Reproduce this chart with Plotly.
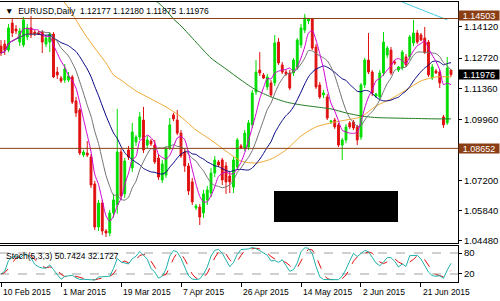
import plotly.graph_objects as go
import pandas as pd

# ---------------- data ----------------
date_labels = ["10 Feb 2015", "1 Mar 2015", "19 Mar 2015", "7 Apr 2015",
               "26 Apr 2015", "14 May 2015", "2 Jun 2015", "21 Jun 2015"]
date_tick_idx = [0, 16, 32, 48, 64, 80, 96, 112]

opens = [1.1326, 1.1335, 1.1308, 1.1430, 1.1403, 1.1344, 1.1331, 1.1367, 1.1408, 1.1389,
         1.1385, 1.1389, 1.1335, 1.1344, 1.1380, 1.1209, 1.1182, 1.1173, 1.1173, 1.1187,
         1.1079, 1.1038, 1.0835, 1.0844, 1.0826, 1.0705, 1.0511, 1.0619, 1.0493, 1.0484,
         1.0574, 1.0610, 1.0849, 1.0660, 1.0858, 1.0777, 1.0894, 1.0916, 1.0993, 1.0880,
         1.0898, 1.0880, 1.0822, 1.0723, 1.0745, 1.0867, 1.1016, 1.0993, 1.0934, 1.0849,
         1.0786, 1.0714, 1.0597, 1.0601, 1.0574, 1.0633, 1.0664, 1.0754, 1.0804, 1.0813,
         1.0786, 1.0741, 1.0691, 1.0781, 1.0876, 1.0867, 1.0871, 1.0971, 1.1119, 1.1218,
         1.1196, 1.1142, 1.1160, 1.1160, 1.1344, 1.1241, 1.1209, 1.1205, 1.1205, 1.1232,
         1.1331, 1.1398, 1.1439, 1.1448, 1.1322, 1.1151, 1.1106, 1.1097, 1.0984, 1.0993,
         1.0971, 1.0880, 1.0903, 1.0980, 1.0984, 1.0962, 1.0916, 1.1151, 1.1263, 1.1209,
         1.1101, 1.1097, 1.1205, 1.1286, 1.1308, 1.1254, 1.1218, 1.1227, 1.1277, 1.1277,
         1.1340, 1.1385, 1.1376, 1.1362, 1.1344, 1.1182, 1.1214, 1.1209, 1.1007, 1.0980,
         1.12177]
highs = [1.1353, 1.1353, 1.1425, 1.1448, 1.1421, 1.1408, 1.1457, 1.1425, 1.1462, 1.1398,
         1.1394, 1.1398, 1.1376, 1.1389, 1.1389, 1.1232, 1.1191, 1.1245, 1.1209, 1.1196,
         1.1097, 1.1047, 1.0858, 1.0898, 1.0840, 1.0718, 1.0633, 1.0633, 1.0502, 1.0588,
         1.0660, 1.1043, 1.0867, 1.0822, 1.0876, 1.0980, 1.0925, 1.1029, 1.1052, 1.0921,
         1.0907, 1.0903, 1.0840, 1.0813, 1.0876, 1.1002, 1.1025, 1.1038, 1.0948, 1.0867,
         1.0799, 1.0732, 1.0615, 1.0615, 1.0678, 1.0696, 1.0777, 1.0831, 1.0813, 1.0822,
         1.0804, 1.0759, 1.0826, 1.0912, 1.0885, 1.0948, 1.0993, 1.1128, 1.1263, 1.1299,
         1.1205, 1.1200, 1.1173, 1.1376, 1.1362, 1.1254, 1.1218, 1.1218, 1.1272, 1.1362,
         1.1425, 1.1471, 1.1453, 1.1453, 1.1335, 1.1164, 1.1128, 1.1110, 1.0993, 1.1002,
         1.0980, 1.0912, 1.0975, 1.0988, 1.0993, 1.0971, 1.1160, 1.1272, 1.1385, 1.1218,
         1.1115, 1.1218, 1.1389, 1.1326, 1.1322, 1.1263, 1.1236, 1.1308, 1.1290, 1.1376,
         1.1444, 1.1398, 1.1385, 1.1412, 1.1353, 1.1245, 1.1223, 1.1218, 1.1016, 1.1277,
         1.12180]
lows = [1.1281, 1.1286, 1.1299, 1.1367, 1.1380, 1.1326, 1.1322, 1.1353, 1.1362, 1.1371,
        1.1376, 1.1295, 1.1322, 1.1299, 1.1182, 1.1178, 1.1160, 1.1160, 1.1164, 1.1065,
        1.1007, 1.0835, 1.0826, 1.0826, 1.0687, 1.0497, 1.0493, 1.0475, 1.0466, 1.0470,
        1.0552, 1.0570, 1.0633, 1.0642, 1.0813, 1.0759, 1.0876, 1.0903, 1.0844, 1.0867,
        1.0876, 1.0795, 1.0723, 1.0709, 1.0732, 1.0858, 1.0988, 1.0925, 1.0822, 1.0759,
        1.0655, 1.0610, 1.0588, 1.0520, 1.0552, 1.0610, 1.0646, 1.0736, 1.0781, 1.0700,
        1.0660, 1.0664, 1.0664, 1.0768, 1.0862, 1.0853, 1.0858, 1.0957, 1.1106, 1.1191,
        1.1178, 1.1128, 1.1097, 1.1146, 1.1241, 1.1200, 1.1191, 1.1128, 1.1191, 1.1218,
        1.1317, 1.1385, 1.1425, 1.1308, 1.1133, 1.1088, 1.1092, 1.0993, 1.0975, 1.0953,
        1.0871, 1.0813, 1.0889, 1.0953, 1.0948, 1.0880, 1.0903, 1.1137, 1.1200, 1.1101,
        1.1092, 1.1088, 1.1191, 1.1272, 1.1196, 1.1241, 1.1209, 1.1218, 1.1232, 1.1263,
        1.1326, 1.1335, 1.1349, 1.1290, 1.1187, 1.1173, 1.1200, 1.1137, 1.0957, 1.0971,
        1.11875]
closes = [1.1295, 1.1308, 1.1408, 1.1385, 1.1394, 1.1394, 1.1444, 1.1408, 1.1376, 1.1380,
          1.1380, 1.1344, 1.1362, 1.1380, 1.1187, 1.1196, 1.1169, 1.1223, 1.1191, 1.1074,
          1.1025, 1.0844, 1.0849, 1.0835, 1.0700, 1.0511, 1.0619, 1.0493, 1.0484, 1.0574,
          1.0633, 1.0849, 1.0651, 1.0808, 1.0826, 1.0939, 1.0916, 1.1007, 1.0858, 1.0903,
          1.0885, 1.0804, 1.0736, 1.0795, 1.0862, 1.0971, 1.0998, 1.0934, 1.0831, 1.0786,
          1.0673, 1.0624, 1.0606, 1.0556, 1.0660, 1.0678, 1.0754, 1.0813, 1.0790, 1.0723,
          1.0714, 1.0714, 1.0813, 1.0903, 1.0867, 1.0934, 1.0980, 1.1115, 1.1209, 1.1205,
          1.1182, 1.1187, 1.1106, 1.1340, 1.1250, 1.1209, 1.1200, 1.1137, 1.1263, 1.1353,
          1.1408, 1.1453, 1.1448, 1.1317, 1.1142, 1.1097, 1.1115, 1.1002, 1.0988, 1.0962,
          1.0880, 1.0903, 1.0962, 1.0962, 1.0957, 1.0903, 1.1151, 1.1263, 1.1209, 1.1115,
          1.1110, 1.1205, 1.1344, 1.1317, 1.1205, 1.1250, 1.1232, 1.1299, 1.1241, 1.1367,
          1.1385, 1.1344, 1.1353, 1.1299, 1.1196, 1.1232, 1.1205, 1.1160, 1.0971, 1.1227,
          1.11976]

# slow moving averages (history is off-screen)
orange_idx = [16, 18, 20, 22, 24, 26, 28, 30, 32, 36, 40, 44, 48, 52, 56, 60, 64, 68, 72,
              76, 80, 84, 88, 92, 96, 100, 104, 108, 112, 116, 120]
orange_val = [1.1543, 1.1498, 1.1444, 1.1389, 1.1340, 1.1295, 1.1250, 1.1196, 1.1173,
              1.1124, 1.1088, 1.1052, 1.1007, 1.0948, 1.0903, 1.0853, 1.0808, 1.0799,
              1.0817, 1.0858, 1.0921, 1.0962, 1.0980, 1.0993, 1.1007, 1.1056, 1.1088,
              1.1128, 1.1169, 1.1187, 1.1187]
green_idx = [40, 42, 44, 46, 48, 52, 56, 60, 64, 68, 72, 76, 80, 84, 88, 92, 96, 100, 104,
             110, 116, 120]
green_val = [1.1543, 1.1520, 1.1489, 1.1448, 1.1417, 1.1344, 1.1272, 1.1223, 1.1173,
             1.1128, 1.1097, 1.1074, 1.1061, 1.1052, 1.1043, 1.1025, 1.1011, 1.1004,
             1.1002, 1.1000, 1.0998, 1.0998]
cyan_idx = [105, 107, 110, 113, 116, 119]
cyan_val = [1.1538, 1.1525, 1.1504, 1.1484, 1.1464, 1.1444]

price_ticks = [1.14120, 1.12720, 1.11360, 1.09960, 1.07200, 1.05840, 1.04480]
levels = [1.14503, 1.08652]
stoch_ticks = [20, 80]
stoch_text = "Stoch(5,3,3) 50.7424 32.1727"
symbol = "EURUSD,Daily"

# ---------------- derived series ----------------
idx = list(range(len(closes)))
c = pd.Series(closes)
h = pd.Series(highs)
l = pd.Series(lows)
ma5 = c.rolling(5, min_periods=1).mean()
ma10 = c.rolling(10, min_periods=1).mean()
ma20 = c.rolling(20, min_periods=1).mean()
ll = l.rolling(5, min_periods=1).min()
hh = h.rolling(5, min_periods=1).max()
k = 100 * (c - ll).rolling(3, min_periods=1).sum() / (hh - ll).rolling(3, min_periods=1).sum()
d = k.rolling(3, min_periods=1).mean()

FONT = "Liberation Sans, Arial, sans-serif"
BROWN = "#8B3E14"
GREEN = "#00DD00"
RED = "#E01010"

fig = go.Figure()
fig.add_trace(go.Candlestick(
    x=idx, open=opens, high=highs, low=lows, close=closes,
    xaxis="x2", yaxis="y",
    increasing=dict(line=dict(color=GREEN, width=1), fillcolor=GREEN),
    decreasing=dict(line=dict(color=RED, width=1), fillcolor=RED),
    whiskerwidth=0, showlegend=False, hoverinfo="skip"))

for xs, ys, col in [(orange_idx, orange_val, "#F0A830"),
                    (green_idx, green_val, "#1E7A1E"),
                    (cyan_idx, cyan_val, "#40C8E0"),
                    (idx, ma20, "#000080"),
                    (idx, ma10, "#707070"),
                    (idx, ma5, "#D000D0")]:
    fig.add_trace(go.Scatter(x=xs, y=ys, mode="lines", xaxis="x2", yaxis="y",
                             line=dict(color=col, width=1, shape="spline", smoothing=0.6),
                             showlegend=False, hoverinfo="skip"))

fig.add_trace(go.Scatter(x=idx, y=d, mode="lines", xaxis="x", yaxis="y2",
                         line=dict(color="#E01010", width=1, dash="dash"),
                         showlegend=False, hoverinfo="skip"))
fig.add_trace(go.Scatter(x=idx, y=k, mode="lines", xaxis="x", yaxis="y2",
                         line=dict(color="#20B2AA", width=1),
                         showlegend=False, hoverinfo="skip"))

xr = [-0.27, 121.87]
main_bottom = (282 - 243) / 280
stoch_top = (282 - 246) / 280

shapes = []
for lv in levels:
    shapes.append(dict(type="line", xref="paper", x0=0, x1=1, yref="y", y0=lv, y1=lv,
                       line=dict(color=BROWN, width=1)))
for sv in stoch_ticks:
    shapes.append(dict(type="line", xref="paper", x0=0, x1=1, yref="y2", y0=sv, y1=sv,
                       line=dict(color="#A0A0A0", width=1, dash="dash"), layer="below"))
# black cover box
shapes.append(dict(type="rect", xref="paper", yref="paper", x0=274 / 458, x1=398 / 458,
                   y0=(282 - 222) / 280, y1=(282 - 191) / 280,
                   fillcolor="black", line=dict(width=0)))

ann = []
title = "▼  %s  %.5f %.5f %.5f %.5f" % (symbol, opens[-1], highs[-1], lows[-1], closes[-1])
ann.append(dict(text=title, xref="paper", yref="paper", x=0, y=1, xanchor="left",
                yanchor="top", xshift=3, yshift=-2, showarrow=False,
                font=dict(family=FONT, size=8.5, color="black")))
ann.append(dict(text=stoch_text, xref="paper", yref="paper", x=0, y=(282 - 256) / 280,
                xanchor="left", yanchor="middle", xshift=4, showarrow=False,
                font=dict(family=FONT, size=8.5, color="black")))
for lv, ys in zip(levels, [3, 0]):
    ann.append(dict(text="%.5f" % lv, xref="paper", yref="y", x=1, y=lv, xanchor="left",
                    yanchor="middle", yshift=ys, showarrow=False, bgcolor=BROWN,
                    width=40, height=9, borderpad=0,
                    font=dict(family=FONT, size=9, color="white")))
ann.append(dict(text="%.5f" % closes[-1], xref="paper", yref="y", x=1, y=closes[-1],
                xanchor="left", yanchor="middle", showarrow=False, bgcolor="black",
                width=40, height=9, borderpad=0,
                font=dict(family=FONT, size=9, color="white")))
for ti, tl in zip(date_tick_idx, date_labels):
    ann.append(dict(text=tl, xref="x", yref="paper", x=ti, y=(282 - 292) / 280,
                    xanchor="left", yanchor="middle", xshift=0, showarrow=False,
                    font=dict(family=FONT, size=8.5, color="black")))

axis_common = dict(showgrid=False, zeroline=False, showline=True, linecolor="black",
                   linewidth=1, mirror=True)

fig.update_layout(
    width=500, height=301,
    margin=dict(l=0, r=42, t=2, b=19),
    paper_bgcolor="white", plot_bgcolor="white",
    showlegend=False,
    xaxis=dict(domain=[0, 1], anchor="y2", range=xr, tickvals=date_tick_idx,
               ticktext=[""] * len(date_tick_idx), ticks="outside", ticklen=4,
               tickcolor="black", rangeslider=dict(visible=False), **axis_common),
    xaxis2=dict(domain=[0, 1], anchor="y", range=xr, matches="x", showticklabels=False,
                ticks="", rangeslider=dict(visible=False), **axis_common),
    yaxis=dict(domain=[main_bottom, 1], anchor="x2", side="right",
               range=[1.04389, 1.15246], tickvals=price_ticks,
               ticktext=["%.5f" % v for v in price_ticks], ticks="outside", ticklen=3,
               tickcolor="black", tickfont=dict(family=FONT, size=9.5, color="black"),
               **axis_common),
    yaxis2=dict(domain=[0, stoch_top], anchor="x", side="right", range=[-2.9, 100],
                tickvals=stoch_ticks, ticktext=[str(v) for v in stoch_ticks],
                ticks="outside", ticklen=3, tickcolor="black",
                tickfont=dict(family=FONT, size=9.5, color="black"), **axis_common),
    shapes=shapes, annotations=ann,
)

fig.write_html("out.html")
